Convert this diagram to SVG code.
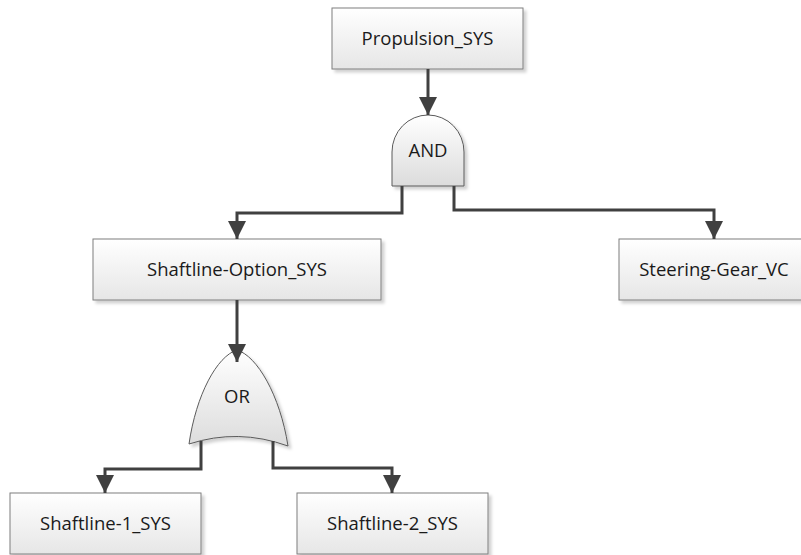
<svg xmlns="http://www.w3.org/2000/svg" width="801" height="555" viewBox="0 0 801 555">
  <style>
    .box { fill: url(#nodeFill); stroke: #7f7f7f; stroke-width: 1; filter: url(#shadow); }
    .gate { fill: url(#gateFill); stroke: #5a5a5a; stroke-width: 1; filter: url(#shadow); }
    .label { font-family: "Open Sans", "Liberation Sans", sans-serif; font-size: 18.5px; fill: #1a1a1a; text-anchor: middle; }
    .wire { fill: none; stroke: #404040; stroke-width: 3; marker-end: url(#arrow); }
  </style>
  <defs>
    <linearGradient id="nodeFill" x1="0" y1="0" x2="0" y2="1">
      <stop offset="0" stop-color="#ffffff"/>
      <stop offset="1" stop-color="#e6e6e6"/>
    </linearGradient>
    <linearGradient id="gateFill" x1="0" y1="0" x2="0" y2="1">
      <stop offset="0" stop-color="#ffffff"/>
      <stop offset="1" stop-color="#dcdcdc"/>
    </linearGradient>
    <filter id="shadow" x="-10%" y="-10%" width="130%" height="140%">
      <feDropShadow dx="3" dy="3" stdDeviation="1.5" flood-color="#000000" flood-opacity="0.18"/>
    </filter>
    <marker id="arrow" markerUnits="userSpaceOnUse" markerWidth="18" markerHeight="18" viewBox="0 0 18 18" refX="18" refY="9" orient="auto">
      <path d="M0,0 L18,9 L0,18 Z" fill="#404040"/>
    </marker>
  </defs>

  <!-- top event -->
  <g id="propulsion-sys">
    <rect class="box" x="332" y="8" width="191" height="61"/>
    <text class="label" x="427.5" y="45">Propulsion_SYS</text>
  </g>

  <!-- AND gate -->
  <g id="and-gate">
    <path class="gate" d="M392,186 V152 A36,37 0 0 1 464,152 V186 Z"/>
    <text class="label" x="428" y="157">AND</text>
  </g>

  <g id="shaftline-option-sys">
    <rect class="box" x="93" y="239" width="288" height="61"/>
    <text class="label" x="237" y="276">Shaftline-Option_SYS</text>
  </g>

  <g id="steering-gear-vc">
    <rect class="box" x="619" y="239" width="191" height="61"/>
    <text class="label" x="714" y="276">Steering-Gear_VC</text>
  </g>

  <!-- OR gate -->
  <g id="or-gate">
    <path class="gate" d="M237,350 C217,356 196,395 189,444 Q238,428 288,446 C280,395 257,356 237,350 Z"/>
    <text class="label" x="237" y="403">OR</text>
  </g>

  <g id="shaftline-1-sys">
    <rect class="box" x="10" y="493" width="191" height="61"/>
    <text class="label" x="105.5" y="530">Shaftline-1_SYS</text>
  </g>

  <g id="shaftline-2-sys">
    <rect class="box" x="297" y="493" width="191" height="61"/>
    <text class="label" x="392.5" y="530">Shaftline-2_SYS</text>
  </g>

  <!-- connectors -->
  <g id="connectors">
    <path class="wire" d="M428,69 V115"/>
    <path class="wire" d="M402,186 V213 H237 V239"/>
    <path class="wire" d="M454,186 V210 H714 V239"/>
    <path class="wire" d="M237,300 V362"/>
    <path class="wire" d="M201,441 V469 H105 V493"/>
    <path class="wire" d="M273,441 V468 H392 V493"/>
  </g>
</svg>
